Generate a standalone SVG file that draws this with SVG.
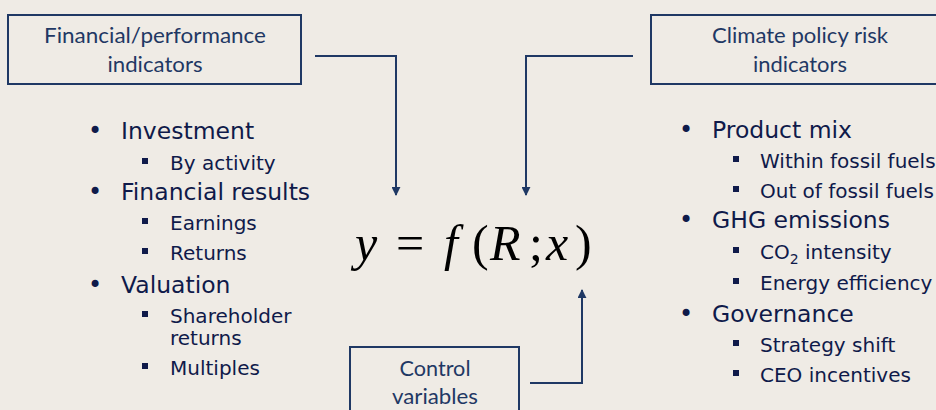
<svg xmlns="http://www.w3.org/2000/svg" width="936" height="410" viewBox="0 0 936 410">
<defs>
<marker id="arr" viewBox="0 0 10 10" refX="9" refY="5" markerWidth="9" markerHeight="9" markerUnits="userSpaceOnUse" orient="auto">
<path d="M0,0 L10,5 L0,10 z" fill="#1F3864"/>
</marker>
<style>
.box{fill:none;stroke:#1F3864;stroke-width:2}
.bt{font-family:Lato,"Open Sans","Liberation Sans",sans-serif;font-size:21px;fill:#1F3864;text-anchor:middle}
.l1{font-family:"DejaVu Sans",Verdana,sans-serif;font-size:23.5px;fill:#0F1A4A}
.l2{font-family:"DejaVu Sans",Verdana,sans-serif;font-size:20px;fill:#0F1A4A}
.b1{font-family:"DejaVu Sans",sans-serif;font-size:24px;fill:#0F1A4A;text-anchor:middle}
.sq{fill:#0F1A4A}
.conn{fill:none;stroke:#1F3864;stroke-width:2}
.eq{font-family:"Liberation Serif","Times New Roman",serif;font-size:50px;fill:#000}
.it{font-style:italic}
</style>
</defs>
<rect width="936" height="410" fill="#EFEBE5"/>

<g id="fin-box">
<rect class="box" x="8" y="15" width="293" height="69"/>
<text class="bt" x="155" y="43" textLength="222" lengthAdjust="spacingAndGlyphs">Financial/performance</text>
<text class="bt" x="155" y="72" textLength="95" lengthAdjust="spacingAndGlyphs">indicators</text>
</g>

<g id="climate-box">
<rect class="box" x="651" y="15" width="298" height="69"/>
<text class="bt" x="800" y="43" textLength="176" lengthAdjust="spacingAndGlyphs">Climate policy risk</text>
<text class="bt" x="800" y="72" textLength="94" lengthAdjust="spacingAndGlyphs">indicators</text>
</g>

<g id="control-box">
<rect class="box" x="350" y="347" width="169" height="80"/>
<text class="bt" x="435" y="376" textLength="71" lengthAdjust="spacingAndGlyphs">Control</text>
<text class="bt" x="435" y="404" textLength="86" lengthAdjust="spacingAndGlyphs">variables</text>
</g>

<g id="fin-list">
<text class="b1" x="95" y="139">•</text>
<text class="l1" x="121" y="139">Investment</text>
<rect class="sq" x="142" y="158" width="6" height="6"/>
<text class="l2" x="170" y="170">By activity</text>
<text class="b1" x="95" y="200">•</text>
<text class="l1" x="121" y="200">Financial results</text>
<rect class="sq" x="142" y="218" width="6" height="6"/>
<text class="l2" x="170" y="230">Earnings</text>
<rect class="sq" x="142" y="248" width="6" height="6"/>
<text class="l2" x="170" y="260">Returns</text>
<text class="b1" x="95" y="293">•</text>
<text class="l1" x="121" y="293">Valuation</text>
<rect class="sq" x="142" y="311" width="6" height="6"/>
<text class="l2" x="170" y="323">Shareholder</text>
<text class="l2" x="170" y="345">returns</text>
<rect class="sq" x="142" y="363" width="6" height="6"/>
<text class="l2" x="170" y="375">Multiples</text>
</g>

<g id="climate-list">
<text class="b1" x="686" y="138">•</text>
<text class="l1" x="712" y="138">Product mix</text>
<rect class="sq" x="733" y="156" width="6" height="6"/>
<text class="l2" x="760" y="168">Within fossil fuels</text>
<rect class="sq" x="733" y="186" width="6" height="6"/>
<text class="l2" x="760" y="198">Out of fossil fuels</text>
<text class="b1" x="686" y="228">•</text>
<text class="l1" x="712" y="228">GHG emissions</text>
<rect class="sq" x="733" y="247" width="6" height="6"/>
<text class="l2" x="760" y="259">CO<tspan font-size="14" dy="5">2</tspan><tspan dy="-5"> intensity</tspan></text>
<rect class="sq" x="733" y="278" width="6" height="6"/>
<text class="l2" x="760" y="290">Energy efficiency</text>
<text class="b1" x="686" y="322">•</text>
<text class="l1" x="712" y="322">Governance</text>
<rect class="sq" x="733" y="340" width="6" height="6"/>
<text class="l2" x="760" y="352">Strategy shift</text>
<rect class="sq" x="733" y="370" width="6" height="6"/>
<text class="l2" x="760" y="382">CEO incentives</text>
</g>

<g id="equation">
<text class="eq" y="260"><tspan class="it" x="355">y</tspan><tspan x="396">=</tspan><tspan class="it" x="444">f</tspan><tspan x="472">(</tspan><tspan class="it" x="490">R</tspan><tspan x="529">;</tspan><tspan class="it" x="546">x</tspan><tspan x="575">)</tspan></text>
</g>

<g id="connectors">
<path class="conn" d="M315,56 H396 V195" marker-end="url(#arr)"/>
<path class="conn" d="M633,56 H526 V195" marker-end="url(#arr)"/>
<path class="conn" d="M530,383 H582 V290" marker-end="url(#arr)"/>
</g>
</svg>
